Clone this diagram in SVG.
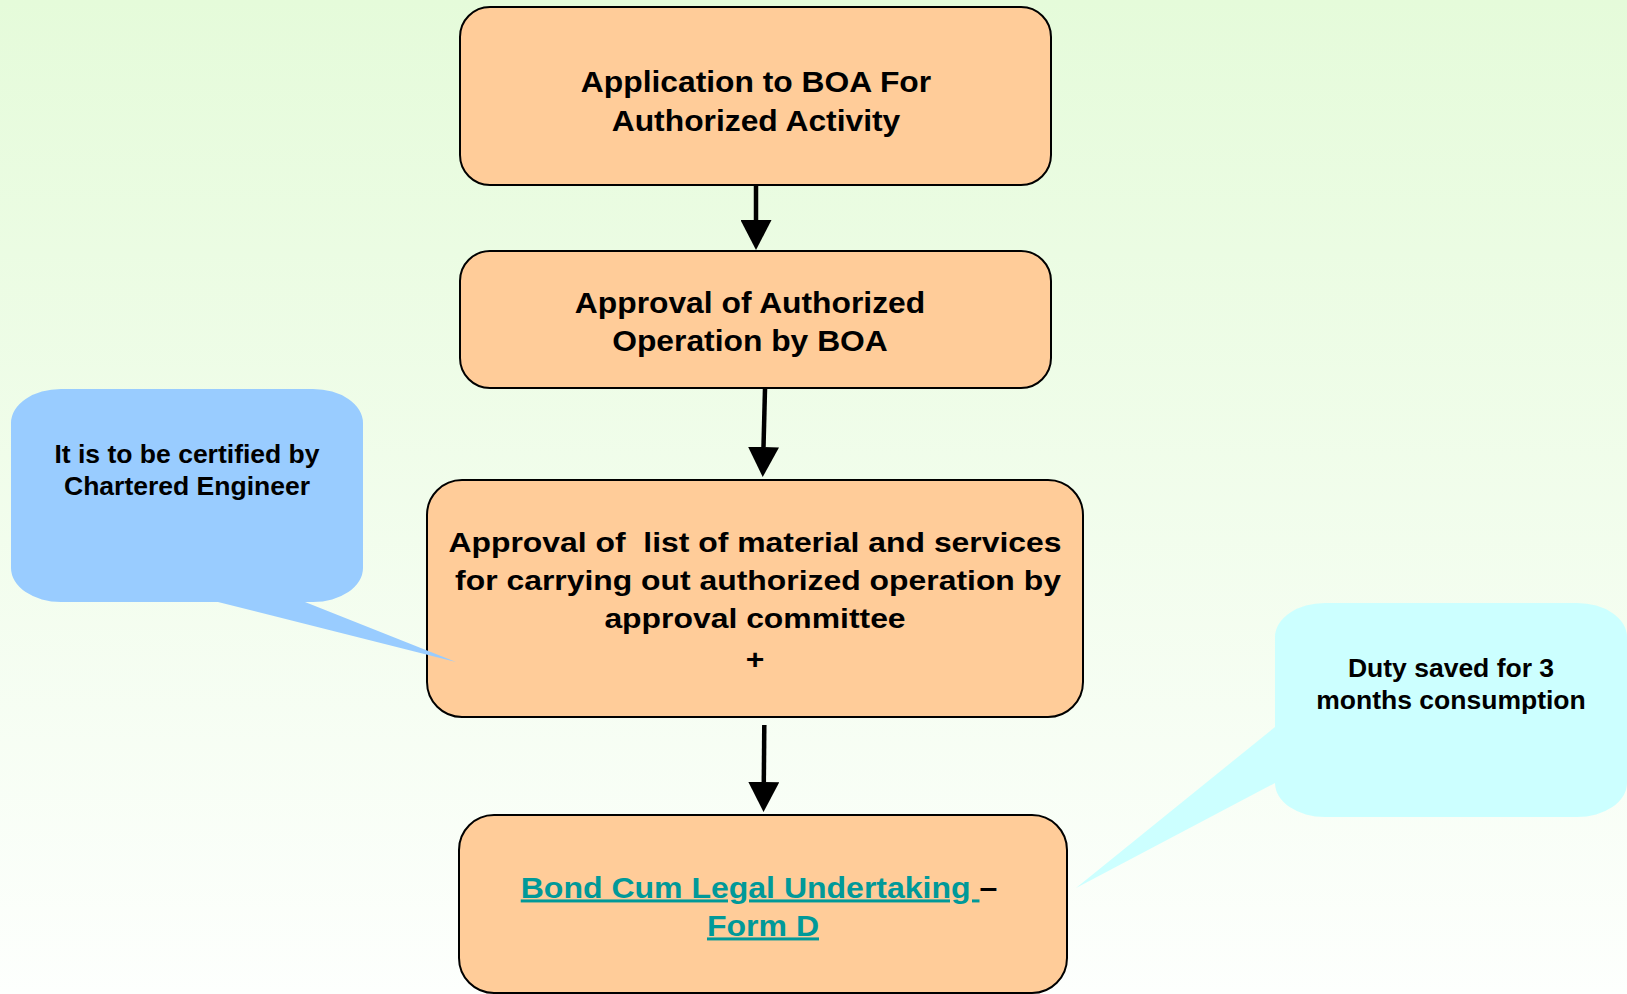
<svg xmlns="http://www.w3.org/2000/svg" width="1627" height="994" viewBox="0 0 1627 994">
<defs>
<linearGradient id="bg" x1="0" y1="0" x2="0" y2="1">
<stop offset="0" stop-color="#E5FBDA"/>
<stop offset="1" stop-color="#FDFFFD"/>
</linearGradient>
<marker id="arrow" viewBox="0 0 30 31" markerWidth="30" markerHeight="31" refX="0" refY="15.5" orient="auto" markerUnits="userSpaceOnUse">
<path d="M0,0 L30,15.5 L0,31 Z" fill="#000"/>
</marker>
<style>
.box{fill:#FFCC99;stroke:#000;stroke-width:2}
.t{font-family:"Liberation Sans",Arial,Helvetica,sans-serif;font-weight:bold;fill:#000;text-anchor:middle}
.big{font-size:29px}
.mid{font-size:27.5px;white-space:pre}
.link{font-size:30px}
.note{font-size:25.5px}
.teal{fill:#009999;text-decoration:underline}
.conn{stroke:#000;stroke-width:4.5;fill:none;marker-end:url(#arrow)}
</style>
</defs>
<rect x="0" y="0" width="1627" height="994" fill="url(#bg)"/>

<g id="callout-duty">
<path d="M1325,603 H1577 A50 34 0 0 1 1627,637 V783 A50 34 0 0 1 1577,817 H1325 A50 34 0 0 1 1275,783 L1076,888 L1275,727 V637 A50 34 0 0 1 1325,603 Z" fill="#CCFFFF"/>
<text class="t note" transform="translate(1451 677) scale(1.04 1)">Duty saved for 3</text>
<text class="t note" transform="translate(1451 709) scale(1.04 1)">months consumption</text>
</g>

<g id="connectors">
<line class="conn" x1="756" y1="186" x2="756" y2="220"/>
<line class="conn" x1="765" y1="389" x2="763.5" y2="447"/>
<line class="conn" x1="764.3" y1="725" x2="763.8" y2="782"/>
</g>

<g id="node-application">
<rect class="box" x="460" y="7" width="591" height="178" rx="30" ry="30"/>
<text class="t big" transform="translate(756 91.5) scale(1.097 1)">Application to BOA For</text>
<text class="t big" transform="translate(756 130.5) scale(1.097 1)">Authorized Activity</text>
</g>

<g id="node-approval-operation">
<rect class="box" x="460" y="251" width="591" height="137" rx="30" ry="30"/>
<text class="t big" transform="translate(750 313) scale(1.097 1)">Approval of Authorized</text>
<text class="t big" transform="translate(750 350.5) scale(1.097 1)">Operation by BOA</text>
</g>

<g id="node-approval-list">
<rect class="box" x="427" y="480" width="656" height="237" rx="35" ry="35"/>
<text class="t mid" transform="translate(755 552) scale(1.16 1)">Approval of  list of material and services</text>
<text class="t mid" transform="translate(758 590) scale(1.16 1)">for carrying out authorized operation by</text>
<text class="t mid" transform="translate(755 628) scale(1.16 1)">approval committee</text>
<text class="t mid" transform="translate(755 669) scale(1.16 1)">+</text>
</g>

<g id="callout-engineer">
<path d="M61,389 H313 A50 34 0 0 1 363,423 V568 A50 34 0 0 1 313,602 H305 L456,662 L218,602 H61 A50 34 0 0 1 11,568 V423 A50 34 0 0 1 61,389 Z" fill="#99CCFF"/>
<text class="t note" transform="translate(187 463) scale(1.04 1)">It is to be certified by</text>
<text class="t note" transform="translate(187 495) scale(1.04 1)">Chartered Engineer</text>
</g>

<g id="node-bond">
<rect class="box" x="459" y="815" width="608" height="178" rx="35" ry="35"/>
<text class="t link" transform="translate(759 897.5) scale(1.067 1)"><tspan class="teal">Bond Cum Legal Undertaking </tspan>–</text>
<text class="t link" transform="translate(763 935.5) scale(1.067 1)"><tspan class="teal">Form D</tspan></text>
</g>
</svg>
